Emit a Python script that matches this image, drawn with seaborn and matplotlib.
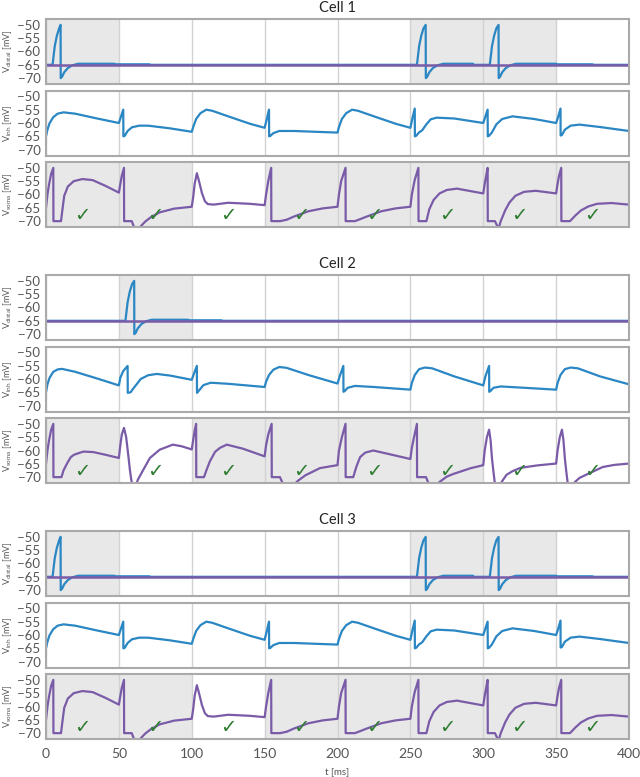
import numpy as np
import matplotlib
matplotlib.use("Agg")
import matplotlib.pyplot as plt
import seaborn as sns

# time axis / windows
T_MAX = 400
WINDOWS = list(range(0, 401, 50))
CHECK_T = [25, 75, 125, 175, 225, 275, 325, 375]
CHECK_V = -68
REST_V = -65

BLUE = "#2a87c4"
PURPLE = "#7a5ba8"
GREEN = "#2f7d32"
SHADE = "#e8e8e8"

# ---- Cell 1 (cell 3 looks the same) ----
dist1_t = [0, 4.5, 6, 7.5, 9, 10, 10.1, 11, 12.5, 15, 18, 22, 47, 47.5, 71, 71.5,
           254.5, 256, 257.5, 259, 260.5, 260.6, 261.5, 263, 265.5, 268.5, 272.5, 293, 293.5,
           304.5, 306, 307.5, 309, 310.5, 310.6, 311.5, 313, 315.5, 318.5, 322.5, 350, 350.5, 375, 375.5, 400]
dist1_v = [-65, -65, -58, -54, -51.3, -50, -70, -69.5, -67.8, -66.2, -65.2, -64.6, -64.6, -64.8, -64.8, -65,
           -65, -58, -54, -51.3, -50, -70, -69.5, -67.8, -66.2, -65.2, -64.6, -64.6, -65,
           -65, -58, -54, -51.3, -50, -70, -69.5, -67.8, -66.2, -65.2, -64.6, -64.6, -64.8, -64.8, -65, -65]

inh1 = [(0, -65), (1, -62.5), (2.5, -60), (5, -57.8), (8, -56.5), (12, -56), (20, -56.5), (35, -58.3), (50, -60),
        (51.5, -57.5), (53, -55), (53.1, -65), (54, -64.8), (56, -63), (59, -61.6), (64, -61), (70, -61), (85, -62), (100, -63.3),
        (101, -61.5), (103, -58.5), (106, -56.3), (110, -55), (114, -55.4), (125, -57.5), (140, -60.3), (150, -61.8),
        (151.5, -58.5), (153, -55), (153.1, -65), (154, -64.8), (156, -63.8), (160, -63), (170, -63), (185, -63.3), (200, -63.6),
        (201, -61.5), (203, -58.5), (206, -56.3), (210, -55), (214, -55.4), (225, -57.5), (240, -60.3), (250, -61.8),
        (251.5, -58), (253, -54.6), (253.1, -65), (254, -64.8), (256, -63.5), (258, -62.8), (261, -60.5), (264, -58.6), (268, -58), (280, -58.3), (300, -60),
        (301.5, -57.5), (303, -55), (303.1, -65), (304, -64.8), (306, -63.5), (309, -60.5), (313, -58.5), (320, -57.5), (335, -58.5), (350, -60),
        (351.5, -57.5), (353, -54.6), (353.1, -64.7), (354, -64.5), (356, -62.5), (360, -61), (366, -60.6), (380, -61.5), (400, -63)]

soma1 = [(0, -65), (1, -60), (2, -56.5), (3.5, -52.3), (5, -50), (5.1, -70), (10.3, -70), (11.2, -66), (12.5, -60.5), (15, -57), (19, -55), (25, -54.2), (32, -54.6), (41, -56.8), (50, -59.3),
         (51, -56), (52, -53), (53.5, -50), (53.6, -70), (58.8, -70), (61, -73), (64, -72.5), (68, -70.2), (72, -68.5), (78, -66.7), (88, -65.3), (100, -64.6),
         (101, -61), (102, -56), (103.5, -52), (105, -55), (107, -59.5), (109, -62.5), (111, -63.6), (115, -63.8), (125, -63.1), (140, -63.5), (150, -64),
         (151, -60), (152.5, -55), (154.5, -50), (154.6, -70), (160.5, -70), (165, -69.5), (170, -68.3), (180, -66.3), (190, -65.2), (200, -64.6),
         (201, -60), (202.5, -55), (205.5, -50), (205.6, -70), (212, -70), (220, -68.3), (230, -66.3), (240, -65.2), (250, -64.6),
         (251, -60), (253, -54.5), (255.5, -50), (255.6, -70), (261, -70), (263, -65.5), (266, -62), (270, -59.6), (275, -58.3), (282, -57.8), (290, -58.6), (300, -59.6),
         (301, -56), (302, -53), (303, -50), (303.1, -70), (308, -70), (310.5, -72.8), (312, -70), (315, -66), (318, -63), (322, -60.5), (328, -59), (336, -58.6), (350, -59.6),
         (351, -56), (352, -53), (353.5, -50), (353.6, -70), (359.5, -70), (363, -68), (367, -66), (372, -64.5), (378, -63.5), (388, -63.2), (400, -63.8)]

dist1_shade = [0, 250, 300]
soma1_shade = [0, 50, 150, 200, 250, 300, 350]

# ---- Cell 2 ----
dist2_t = [0, 54.5, 56, 57.5, 59, 60.5, 60.6, 61.5, 63, 65.5, 68.5, 72.5, 97.5, 98, 120.5, 121, 400]
dist2_v = [-65, -65, -58, -54, -51.3, -50, -70, -69.5, -67.8, -66.2, -65.2, -64.6, -64.6, -64.8, -64.8, -65, -65]

inh2 = [(0, -65), (1, -62), (2.5, -59.5), (5, -57.3), (8, -56.4), (11, -56.2), (20, -57.3), (35, -59.8), (50, -62.4),
        (51, -59.5), (53, -57), (56, -55.1), (56.1, -65.2), (58, -65), (60, -63.5), (65, -60), (70, -58.6), (76, -58.1), (85, -58.7), (100, -60.3),
        (101.5, -58), (103.5, -55.1), (103.6, -65.2), (105, -64.3), (108, -62.3), (113, -61.4), (125, -61.8), (150, -63),
        (151, -61), (153, -58.5), (156, -56.5), (160, -55.5), (165, -55.8), (180, -58.5), (200, -61.7),
        (201.5, -59), (204, -55.1), (204.1, -64.8), (205, -64.5), (207, -63.3), (212, -62.6), (225, -63), (250, -64),
        (251, -61.5), (253, -58.5), (256, -56.3), (260, -55.7), (265, -56), (280, -59), (300, -62.4),
        (301.5, -59), (304, -55.1), (304.1, -64.8), (305, -64.5), (307, -63.3), (312, -62.8), (325, -63.2), (350, -64),
        (351, -61.5), (353, -58.5), (356, -56.3), (360, -55.7), (365, -56), (380, -59), (400, -62)]

soma2 = [(0, -65), (1, -60), (2, -56.5), (3.5, -52.3), (5, -50), (5.1, -70), (10.6, -70), (12, -67.5), (14.6, -64.7), (17, -62.5), (19.2, -61.6), (25.6, -60.4), (32.5, -60.6), (40, -61.5), (50, -62.8),
         (51, -58), (52, -54), (53.5, -51.5), (55, -55), (56.5, -62), (57.5, -67), (58.5, -71), (59.5, -73.5), (61.5, -73.5), (63, -71), (66.8, -67.2), (71.3, -62.8), (78, -59.7), (87, -57.8), (93, -58.4), (100, -59.6),
         (101, -56), (102, -52.5), (103, -50), (103.1, -70), (108.4, -70), (110, -67.5), (112.5, -64), (116, -60.5), (119.4, -59), (124, -57.8), (135, -59.3), (150, -62.2),
         (151, -58), (152.5, -54), (154.8, -50), (154.9, -70), (160.5, -70), (163, -73), (169.7, -73), (173, -71.3), (178, -69.3), (188, -66.6), (200, -65.5),
         (201, -60), (203, -55), (205.5, -50), (205.6, -70), (210.8, -70), (213, -66), (215.5, -62.5), (219, -60.8), (224.5, -60), (235, -61.3), (250, -63.2),
         (251, -59), (252.5, -55), (254.5, -50), (254.6, -70), (260.7, -70), (263, -73), (268, -73), (270, -71.8), (275, -69.8), (279.5, -68.8), (291, -66.7), (300, -65.5),
         (301, -60), (302.5, -55), (304, -52.2), (305, -56), (306, -63), (307, -68), (308, -72.5), (309, -74), (311, -74), (312, -72.3), (316, -69.1), (320, -67.8), (325.6, -66.5), (337, -65.6), (350, -64.9),
         (351, -60), (352.5, -55), (354, -52.2), (355, -56), (356, -63), (357, -68), (358, -72.5), (359, -74), (361, -74), (362, -72.3), (366, -70.3), (371, -69), (382, -66.2), (390, -65.4), (400, -64.9)]

dist2_shade = [50]
soma2_shade = [0, 100, 150, 200, 250]

CELLS = [
    ("Cell 1", (dist1_t, dist1_v), inh1, soma1, dist1_shade, soma1_shade),
    ("Cell 2", (dist2_t, dist2_v), inh2, soma2, dist2_shade, soma2_shade),
    ("Cell 3", (dist1_t, dist1_v), inh1, soma1, dist1_shade, soma1_shade),
]

sns.set_theme(style="white")
plt.rcParams["font.family"] = ["Lato", "DejaVu Sans"]
plt.rcParams["mathtext.default"] = "regular"

W, H = 640, 777
fig = plt.figure(figsize=(W / 100, H / 100), dpi=100)


def style_axis(ax, shade, ylabel, bottom):
    for s in shade:
        ax.axvspan(s, s + 50, color=SHADE, lw=0, zorder=0)
    ax.set_xlim(0, T_MAX)
    ax.set_ylim(-72.2, -47.8)
    ax.set_xticks(WINDOWS)
    ax.set_yticks([-50, -55, -60, -65, -70])
    ax.set_yticklabels(["\u221250", "\u221255", "\u221260", "\u221265", "\u221270"])
    ax.set_axisbelow(True)
    ax.grid(axis="x", color="#d2d2d2", lw=1.0)
    ax.grid(axis="y", visible=False)
    ax.tick_params(axis="both", length=0, labelsize=10, colors="#555555", pad=6.5)
    ax.tick_params(axis="y", labelsize=9.5, pad=4)
    if not bottom:
        ax.set_xticklabels([])
    for sp in ax.spines.values():
        sp.set_color("#aaaaaa")
        sp.set_linewidth(1.5)
    ax.set_ylabel(ylabel, fontsize=6.5, color="#555555")
    ax.yaxis.set_label_coords(-0.055, 0.5)
    ax.set_xlabel("")


for ci, (title, dist, inh, soma, dshade, sshade) in enumerate(CELLS):
    base = 19 + 256 * ci
    tops = [base, base + 71.5, base + 143]
    axes = [fig.add_axes([46 / W, 1 - (t + 65) / H, 583 / W, 65 / H]) for t in tops]
    bottom = ci == 2

    # distal compartment
    ax = axes[0]
    sns.lineplot(x=dist[0], y=dist[1], ax=ax, color=BLUE, lw=1.6, sort=False, estimator=None)
    sns.lineplot(x=[0, T_MAX], y=[REST_V, REST_V], ax=ax, color=PURPLE, lw=1.8, sort=False, estimator=None)
    style_axis(ax, dshade, "V$_{distal}$ [mV]", False)
    ax.set_title(title, fontsize=10.5, color="#222222", pad=5)

    # inhibitory neuron
    ax = axes[1]
    it, iv = np.array(inh).T
    sns.lineplot(x=it, y=iv, ax=ax, color=BLUE, lw=1.6, sort=False, estimator=None)
    style_axis(ax, [], "V$_{inh}$ [mV]", False)

    # soma
    ax = axes[2]
    st, sv = np.array(soma).T
    sns.lineplot(x=st, y=sv, ax=ax, color=PURPLE, lw=1.6, sort=False, estimator=None)
    style_axis(ax, sshade, "V$_{soma}$ [mV]", bottom)
    for ct in CHECK_T:
        ax.text(ct, CHECK_V, "\u2713", ha="center", va="center", color=GREEN,
                fontsize=14, family="DejaVu Sans", zorder=5)
    if bottom:
        ax.set_xlabel("t [ms]", fontsize=7, color="#555555", labelpad=6)

fig.savefig("out.png", dpi=100)
